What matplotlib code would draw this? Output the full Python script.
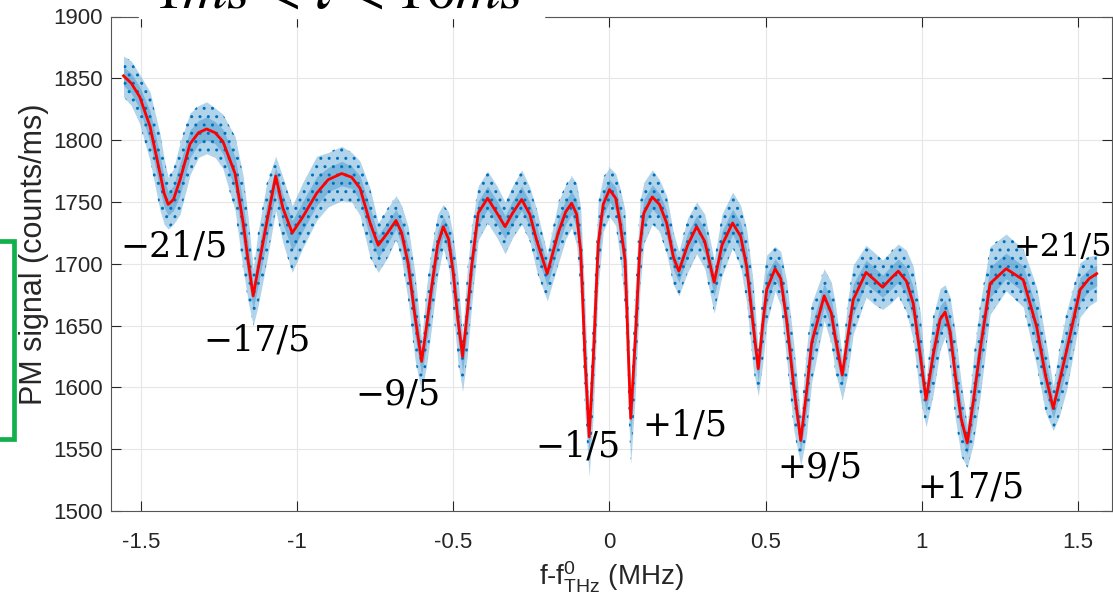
import numpy as np
import matplotlib
matplotlib.use("Agg")
import matplotlib.pyplot as plt
from matplotlib.patches import Rectangle
from matplotlib.lines import Line2D

plt.rcParams['font.family'] = ['Liberation Sans', 'DejaVu Sans']
plt.rcParams['mathtext.fontset'] = 'custom'
plt.rcParams['mathtext.rm'] = 'Liberation Sans'
plt.rcParams['mathtext.it'] = 'Liberation Sans:italic'
plt.rcParams['mathtext.bf'] = 'Liberation Sans:bold'

# fitted spectrum: detuning (MHz) and PM signal (counts/ms)
fit_freq = [-1.555, -1.53, -1.503, -1.47, -1.438, -1.425, -1.412, -1.395, -1.374, -1.342,
            -1.315, -1.289, -1.262, -1.237, -1.198, -1.172, -1.155, -1.14, -1.125, -1.097,
            -1.068, -1.045, -1.015, -0.981, -0.937, -0.9, -0.857, -0.825, -0.798, -0.766,
            -0.74, -0.71, -0.683, -0.665, -0.644, -0.622, -0.601, -0.585, -0.569, -0.55,
            -0.532, -0.515, -0.5, -0.485, -0.47, -0.455, -0.441, -0.42, -0.39, -0.36,
            -0.334, -0.31, -0.281, -0.255, -0.233, -0.199, -0.164, -0.14, -0.121, -0.105,
            -0.092, -0.078, -0.065, -0.052, -0.036, -0.02, 0.0, 0.02, 0.034, 0.05,
            0.06, 0.068, 0.082, 0.098, 0.11, 0.137, 0.16, 0.183, 0.205, 0.222,
            0.25, 0.279, 0.305, 0.335, 0.36, 0.394, 0.42, 0.439, 0.46, 0.476,
            0.49, 0.503, 0.53, 0.548, 0.567, 0.59, 0.612, 0.63, 0.647, 0.687,
            0.71, 0.722, 0.745, 0.762, 0.78, 0.821, 0.848, 0.874, 0.9, 0.924,
            0.95, 0.972, 0.995, 1.013, 1.035, 1.058, 1.074, 1.09, 1.106, 1.125,
            1.145, 1.165, 1.186, 1.218, 1.269, 1.324, 1.367, 1.395, 1.42, 1.44,
            1.463, 1.506, 1.535, 1.559]
fit_signal = [1852, 1846, 1835, 1811, 1773, 1757, 1748, 1752, 1768, 1797,
              1806, 1809, 1806, 1799, 1773, 1733, 1700, 1674, 1695, 1733,
              1771, 1745, 1725, 1738, 1757, 1768, 1773, 1770, 1761, 1733,
              1715, 1725, 1735, 1725, 1700, 1657, 1621, 1650, 1681, 1715,
              1730, 1720, 1693, 1655, 1625, 1660, 1698, 1741, 1753, 1741,
              1730, 1741, 1752, 1740, 1719, 1692, 1725, 1742, 1749, 1740,
              1710, 1622, 1560, 1622, 1716, 1748, 1760, 1753, 1733, 1703,
              1630, 1575, 1636, 1716, 1741, 1754, 1748, 1733, 1705, 1694,
              1715, 1730, 1718, 1685, 1715, 1733, 1722, 1698, 1650, 1615,
              1650, 1679, 1696, 1688, 1654, 1600, 1557, 1595, 1636, 1674,
              1660, 1641, 1610, 1640, 1671, 1693, 1687, 1681, 1688, 1694,
              1686, 1668, 1625, 1590, 1625, 1655, 1661, 1645, 1611, 1575,
              1555, 1590, 1630, 1684, 1696, 1687, 1649, 1610, 1583, 1605,
              1630, 1679, 1688, 1692]

# scatter of the raw counts around the fit (counts above / below)
spread_above = [16, 18, 18, 28, 32, 28, 22, 25, 30, 25,
                22, 22, 20, 22, 30, 38, 35, 22, 30, 32,
                16, 25, 22, 28, 30, 22, 22, 20, 22, 28,
                18, 20, 20, 22, 30, 35, 18, 32, 32, 25,
                18, 22, 30, 35, 18, 35, 32, 22, 22, 22,
                20, 22, 24, 22, 25, 16, 25, 22, 22, 25,
                35, 45, 20, 45, 35, 22, 18, 20, 28, 40,
                45, 20, 45, 35, 25, 22, 20, 22, 20, 16,
                22, 20, 22, 18, 25, 25, 25, 30, 35, 15,
                32, 28, 18, 22, 32, 35, 18, 35, 32, 22,
                25, 28, 15, 30, 28, 22, 22, 22, 22, 22,
                25, 30, 35, 15, 32, 25, 22, 28, 35, 30,
                15, 35, 38, 30, 28, 25, 32, 30, 18, 28,
                32, 22, 18, 15]
spread_below = [17, 18, 22, 28, 30, 25, 20, 20, 28, 25,
                20, 20, 20, 22, 30, 38, 32, 24, 30, 32,
                28, 28, 32, 25, 22, 22, 22, 20, 22, 28,
                22, 20, 15, 22, 30, 35, 25, 32, 32, 25,
                18, 22, 30, 35, 28, 35, 32, 22, 20, 20,
                22, 20, 20, 22, 25, 22, 25, 22, 20, 25,
                35, 45, 32, 45, 35, 22, 22, 22, 28, 40,
                45, 37, 45, 35, 25, 22, 22, 25, 22, 20,
                22, 22, 22, 25, 25, 20, 25, 30, 35, 22,
                32, 28, 18, 22, 32, 35, 20, 35, 32, 20,
                25, 28, 20, 30, 28, 20, 20, 18, 20, 20,
                25, 30, 35, 22, 32, 25, 20, 28, 35, 30,
                20, 35, 38, 25, 18, 22, 32, 30, 18, 28,
                32, 22, 22, 22]

# resonance labels: text, detuning, signal
peak_labels = ['\u221221/5', '\u221217/5', '\u22129/5', '\u22121/5',
               '+1/5', '+9/5', '+17/5', '+21/5']
label_freq = [-1.394, -1.128, -0.678, -0.102, 0.242, 0.674, 1.158, 1.45]
label_signal = [1706, 1630, 1586, 1544, 1561, 1527, 1511, 1706]

W, H = 1113, 608
fig = plt.figure(figsize=(W / 100, H / 100), dpi=100)
ax = fig.add_axes([111 / W, 1 - 511 / H, (1112 - 111) / W, (511 - 16.5) / H])

f = np.array(fit_freq)
s = np.array(fit_signal)
up = np.array(spread_above)
dn = np.array(spread_below)

blue = '#0072BD'
ax.fill_between(f, s - dn, s + up, color=blue, alpha=0.3, lw=0, zorder=2)
ax.fill_between(f, s - dn, s + up, facecolor='none', edgecolor=blue,
                hatch='..', lw=0, zorder=2)
ax.fill_between(f, s - 0.45 * dn, s + 0.45 * up, color=blue, alpha=0.3, lw=0, zorder=2)
ax.plot(f, s, color='#ff0000', lw=2.0, zorder=3)

for txt, xv, yv in zip(peak_labels, label_freq, label_signal):
    fs = 23 if txt == '+21/5' else 25
    ax.text(xv, yv, txt, family=['DejaVu Serif'], fontsize=fs,
            ha='center', va='baseline', color='black', zorder=4)

ax.set_xlim(-1.595, 1.608)
ax.set_ylim(1500, 1900)
ax.set_xticks([-1.5, -1, -0.5, 0, 0.5, 1, 1.5])
ax.set_xticklabels(['-1.5', '-1', '-0.5', '0', '0.5', '1', '1.5'])
ax.set_yticks(np.arange(1500, 1901, 50))
ax.grid(True, color='#e6e6e6', lw=0.8, zorder=0)
ax.set_axisbelow(True)
ax.tick_params(direction='in', length=7, width=0.8, color='#262626',
               labelcolor='#262626', labelsize=16, top=True, right=True)
ax.tick_params(axis='x', pad=15)
ax.tick_params(axis='y', pad=6)
for sp in ax.spines.values():
    sp.set_color('#555555')
    sp.set_linewidth(0.8)

ax.set_xlabel(r'f-f$^{0}_{\mathrm{THz}}$ (MHz)', fontsize=20, color='#262626', labelpad=5)
ax.set_ylabel('PM signal (counts/ms)', fontsize=22, color='#262626')
ax.yaxis.set_label_coords(-0.062, 0.52)

# title strip overlapping the top of the frame
fig.add_artist(Rectangle((139 / W, 1 - 17.5 / H), (544 - 139) / W, 17.5 / H,
                         transform=fig.transFigure, color='white', zorder=5))
fig.text(338 / W, 1 - 8 / H, r'$1ms < \tau < 10ms$', math_fontfamily='stix',
         fontsize=44, ha='center', va='baseline', zorder=6)

# green bracket on the left margin
fig.add_artist(Line2D([0, 14 / W, 14 / W, 0],
                      [1 - 241 / H, 1 - 241 / H, 1 - 439 / H, 1 - 439 / H],
                      transform=fig.transFigure, color='#12b04a', lw=3.4,
                      solid_joinstyle='miter'))

fig.savefig('out.png', dpi=100)
